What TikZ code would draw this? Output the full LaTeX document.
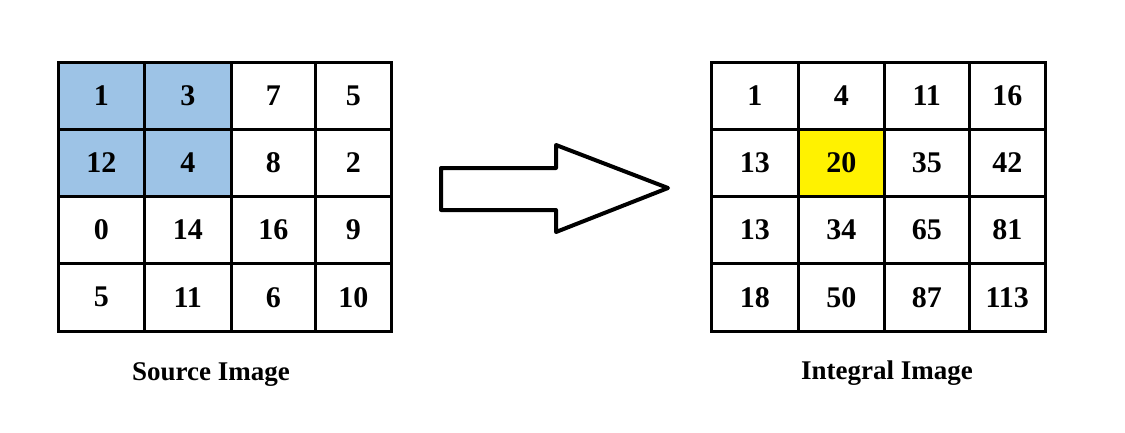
\documentclass[tikz,border=0pt]{standalone}
\usepackage{fontspec}
\setmainfont{Liberation Serif}
\begin{document}
\begin{tikzpicture}[x=1pt,y=-1pt,
  cell/.style={draw=black,line width=2.5pt,anchor=north west,inner sep=0pt,font=\fontsize{30}{30}\selectfont\bfseries},
  lab/.style={font=\fontsize{27}{27}\selectfont\bfseries}]
\useasboundingbox (0,0) rectangle (1125,432);
\definecolor{cblue}{HTML}{9DC3E6}
\def\xs{{57,143,230,314,390}}
\def\xr{{710,797,883,968,1044}}
\def\ys{{61,128,195,262,330}}
\def\L{{"1","3","7","5","12","4","8","2","0","14","16","9","5","11","6","10"}}
\def\R{{"1","4","11","16","13","20","35","42","13","34","65","81","18","50","87","113"}}
\foreach \r in {0,...,3}{\foreach \c in {0,...,3}{
  \pgfmathsetmacro\xa{\xs[\c]}\pgfmathsetmacro\xb{\xs[\c+1]}
  \pgfmathsetmacro\ya{\ys[\r]}\pgfmathsetmacro\yb{\ys[\r+1]}
  \pgfmathsetmacro\xc{\xr[\c]}\pgfmathsetmacro\xd{\xr[\c+1]}
  \pgfmathtruncatemacro\i{4*\r+\c}
  \pgfmathsetmacro\t{\L[\i]}\pgfmathsetmacro\u{\R[\i]}
  \pgfmathtruncatemacro\blue{(\r<2)&&(\c<2)}
  \ifnum\blue=1 \def\fc{cblue}\else\def\fc{white}\fi
  \pgfmathtruncatemacro\yel{(\r==1)&&(\c==1)}
  \ifnum\yel=1 \def\fd{yellow}\else\def\fd{white}\fi
  \node[cell,fill=\fc,minimum width={(\xb-\xa)*1pt},minimum height={(\yb-\ya)*1pt}] (s\i) at (\xa,\ya) {};
  \node at (s\i.center) [font=\fontsize{30}{30}\selectfont\bfseries] {\t};
  \node[cell,fill=\fd,minimum width={(\xd-\xc)*1pt},minimum height={(\yb-\ya)*1pt}] (t\i) at (\xc,\ya) {};
  \node at (t\i.center) [font=\fontsize{30}{30}\selectfont\bfseries] {\u};
}}
\draw[line width=4pt,line join=round] (441,168) -- (556,168) -- (556,145) -- (668,188) -- (556,232) -- (556,210) -- (441,210) -- cycle;
\node[lab] (src) at (211,375) {Source Image};
\node[lab] (int) at (887,373) {Integral Image};
\end{tikzpicture}
\end{document}
